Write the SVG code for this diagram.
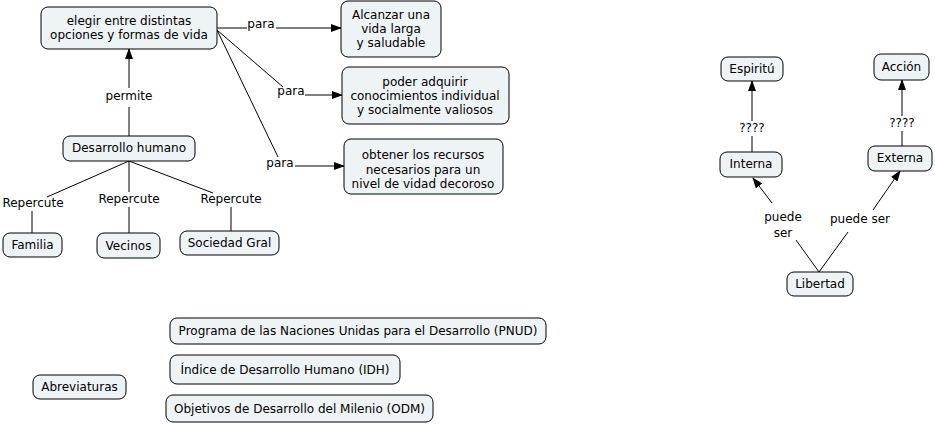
<svg xmlns="http://www.w3.org/2000/svg" width="935" height="424" viewBox="0 0 935 424">
<defs>
<marker id="arr" markerWidth="11" markerHeight="9" refX="10" refY="4" orient="auto" markerUnits="userSpaceOnUse"><path d="M0,0 L11,4 L0,8 z" fill="#000"/></marker>
<style>
.n rect{fill:#eef3f5;stroke:#000;stroke-width:1}
text{font-family:"DejaVu Sans",Verdana,sans-serif;font-size:12px;fill:#000;text-anchor:middle}
.c path{fill:none;stroke:#000;stroke-width:1}
.c path.a{marker-end:url(#arr)}
</style>
</defs>
<rect width="935" height="424" fill="#fff"/>
<g class="c" id="connectors">
<path d="M129,136 V107"/><path class="a" d="M129,88 V49"/>
<path d="M217,28 H247"/><path class="a" d="M276,28 H341"/>
<path d="M217,30 L283,87"/><path class="a" d="M305,95 H342"/>
<path d="M217,30 L278,157"/><path class="a" d="M295,166 H344"/>
<path d="M129,161 L47,197"/><path d="M32,211 V233"/>
<path d="M129,161 V192"/><path d="M129,207 V233"/>
<path d="M129,161 L213,193"/><path d="M231,207 V231"/>
<path d="M752,152 V136"/><path class="a" d="M752,121 V81"/>
<path d="M902,146 V131"/><path class="a" d="M902,116 V80"/>
<path d="M819,272 L796,240"/><path class="a" d="M772,203 L753,178"/>
<path d="M819,272 L848,232"/><path class="a" d="M873,210 L900,171"/>
<text x="129" y="100">permite</text>
<text x="261" y="28">para</text>
<text x="291" y="95">para</text>
<text x="280" y="167">para</text>
<text x="33" y="207">Repercute</text>
<text x="129" y="203">Repercute</text>
<text x="231" y="203">Repercute</text>
<text x="752" y="132">????</text>
<text x="902" y="127">????</text>
<text x="783" y="221">puede</text>
<text x="783" y="237">ser</text>
<text x="860" y="223">puede ser</text>
</g>
<g class="n" id="elegir"><rect x="41" y="7" width="176" height="42" rx="7"/><text x="129" y="25">elegir entre distintas</text><text x="129" y="39">opciones y formas de vida</text></g>
<g class="n" id="alcanzar"><rect x="341" y="1" width="100" height="56" rx="7"/><text x="391" y="19">Alcanzar una</text><text x="391" y="33">vida larga</text><text x="391" y="47">y saludable</text></g>
<g class="n" id="poder"><rect x="342" y="67" width="167" height="57" rx="7"/><text x="425" y="86">poder adquirir</text><text x="425" y="100">conocimientos individual</text><text x="425" y="114">y socialmente valiosos</text></g>
<g class="n" id="obtener"><rect x="344" y="139" width="159" height="55" rx="7"/><text x="423" y="159">obtener los recursos</text><text x="423" y="174">necesarios para un</text><text x="423" y="188">nivel de vidad decoroso</text></g>
<g class="n" id="desarrollo"><rect x="63" y="136" width="132" height="25" rx="7"/><text x="129" y="152">Desarrollo humano</text></g>
<g class="n" id="familia"><rect x="3" y="233" width="59" height="24" rx="7"/><text x="32.5" y="249">Familia</text></g>
<g class="n" id="vecinos"><rect x="97" y="233" width="63" height="25" rx="7"/><text x="128.5" y="250">Vecinos</text></g>
<g class="n" id="sociedad"><rect x="180" y="231" width="99" height="24" rx="7"/><text x="229.5" y="247">Sociedad Gral</text></g>
<g class="n" id="espiritu"><rect x="721" y="57" width="62" height="24" rx="7"/><text x="752" y="73">Espiritú</text></g>
<g class="n" id="accion"><rect x="874" y="54" width="55" height="26" rx="7"/><text x="901.5" y="71">Acción</text></g>
<g class="n" id="interna"><rect x="720" y="152" width="62" height="25" rx="7"/><text x="751" y="168">Interna</text></g>
<g class="n" id="externa"><rect x="868" y="146" width="64" height="25" rx="7"/><text x="900" y="162">Externa</text></g>
<g class="n" id="libertad"><rect x="787" y="272" width="66" height="24" rx="7"/><text x="820" y="288">Libertad</text></g>
<g class="n" id="abreviaturas"><rect x="33" y="375" width="93" height="24" rx="7"/><text x="79.5" y="391">Abreviaturas</text></g>
<g class="n" id="pnud"><rect x="170" y="318" width="376" height="26" rx="7"/><text x="358" y="335">Programa de las Naciones Unidas para el Desarrollo (PNUD)</text></g>
<g class="n" id="idh"><rect x="170" y="355" width="230" height="29" rx="7"/><text x="285" y="374">Índice de Desarrollo Humano (IDH)</text></g>
<g class="n" id="odm"><rect x="166" y="395" width="267" height="27" rx="7"/><text x="299.5" y="413">Objetivos de Desarrollo del Milenio (ODM)</text></g>
</svg>
